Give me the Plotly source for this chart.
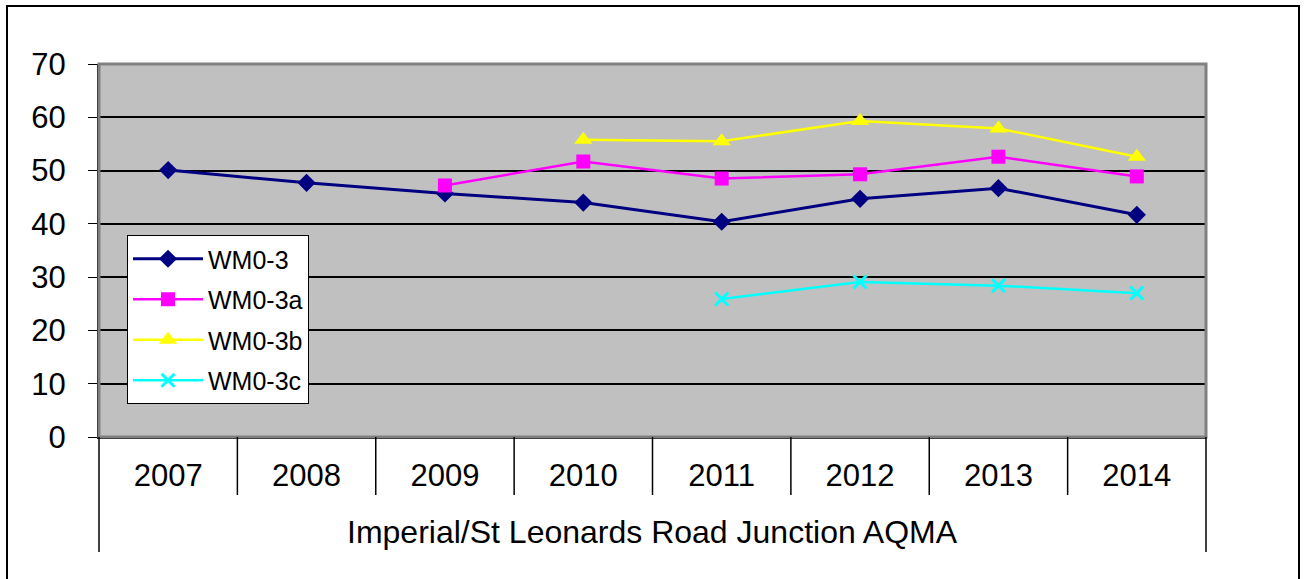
import plotly.graph_objects as go

years = ['2007', '2008', '2009', '2010', '2011', '2012', '2013', '2014']
group = 'Imperial/St Leonards Road Junction AQMA'

wm0_3 = [50.1, 47.7, 45.7, 44.0, 40.4, 44.7, 46.7, 41.7]
wm0_3a = [None, None, 47.2, 51.7, 48.5, 49.3, 52.6, 48.9]
wm0_3b = [None, None, None, 55.8, 55.5, 59.3, 57.9, 52.6]
wm0_3c = [None, None, None, None, 25.9, 29.1, 28.4, 27.0]

xpos = list(range(len(years)))

W, H = 1306, 579
L, T, R, B = 99, 64, 1206, 437
pw, ph = R - L, B - T


def py(v):
    return (B - v) / ph


def px_(v):
    return (v - L) / pw


fig = go.Figure()
fig.add_trace(go.Scatter(x=xpos, y=wm0_3, name='WM0-3', mode='lines+markers', legendgroup='a',
                         line=dict(color='#000080', width=3),
                         marker=dict(symbol='diamond', size=14, color='#000080')))
fig.add_trace(go.Scatter(x=xpos, y=wm0_3a, name='WM0-3a', mode='lines+markers', legendgroup='b',
                         line=dict(color='#FF00FF', width=2.5),
                         marker=dict(symbol='square', size=14, color='#FF00FF')))
fig.add_trace(go.Scatter(x=xpos, y=wm0_3b, name='WM0-3b', mode='lines+markers', legendgroup='c',
                         line=dict(color='#FFFF00', width=2.5),
                         marker=dict(symbol='triangle-up', size=16, color='#FFFF00')))
fig.add_trace(go.Scatter(x=xpos, y=wm0_3c, name='WM0-3c', mode='lines+markers', legendgroup='d',
                         line=dict(color='#00FFFF', width=2.5),
                         marker=dict(symbol='x-thin', size=13, color='#00FFFF',
                                     line=dict(color='#00FFFF', width=3))))

shapes = [
    dict(type='rect', xref='paper', yref='paper', x0=0, x1=1, y0=0, y1=1,
         line=dict(color='#808080', width=3), layer='above'),
    dict(type='rect', xref='paper', yref='paper',
         x0=px_(7), x1=px_(1299), y0=py(590), y1=py(6),
         line=dict(color='black', width=2)),
    dict(type='line', xref='paper', yref='paper', x0=0, x1=0, y0=0, y1=py(552),
         line=dict(color='black', width=1.5)),
    dict(type='line', xref='paper', yref='paper', x0=1, x1=1, y0=0, y1=py(552),
         line=dict(color='black', width=1.5)),
]
for i in range(len(years) - 1):
    shapes.append(dict(type='line', xref='x', yref='paper', x0=i + 0.5, x1=i + 0.5,
                       y0=0, y1=py(495), line=dict(color='black', width=1.5)))

fig.update_layout(
    width=W, height=H,
    margin=dict(l=L, r=W - R, t=T, b=H - B),
    paper_bgcolor='white',
    plot_bgcolor='#C0C0C0',
    font=dict(family='Liberation Sans, Arial, sans-serif', color='black', size=31),
    legend=dict(
        x=px_(127), y=py(235), xanchor='left', yanchor='top',
        bgcolor='white', bordercolor='black', borderwidth=1,
        font=dict(size=25), traceorder='grouped', tracegroupgap=5,
        itemwidth=70,
    ),
    shapes=shapes,
    annotations=[
        dict(text=group, xref='paper', yref='paper', x=0.5, y=py(532),
             xanchor='center', yanchor='middle', showarrow=False, font=dict(size=32)),
    ],
)

fig.update_yaxes(
    range=[0, 70], dtick=10, showgrid=True, gridcolor='black', gridwidth=1.5,
    showline=True, linecolor='black', linewidth=2,
    ticks='outside', ticklen=9, tickcolor='black', ticklabelstandoff=16,
    zeroline=False,
)
fig.update_xaxes(
    range=[-0.5, len(years) - 0.5], tickvals=xpos, ticktext=years,
    showgrid=False, showline=True, linecolor='black', linewidth=2,
    ticks='', ticklabelstandoff=10, zeroline=False,
)

fig.write_html("out.html", config={'displayModeBar': False},
               post_script="document.body.style.margin='0px';")
